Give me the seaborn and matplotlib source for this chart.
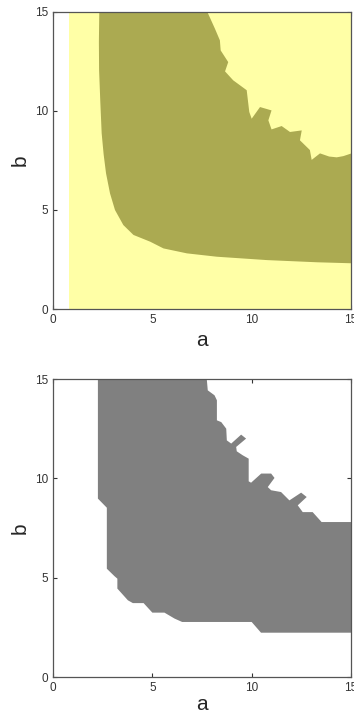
import numpy as np
import pandas as pd
import matplotlib
matplotlib.use("Agg")
import matplotlib.pyplot as plt
import seaborn as sns

# ---------------- data ----------------
# Top panel: valid (yellow) domain and olive stable region boundary
valid_a = [0.82, 15.0, 15.0, 0.82]
valid_b = [0.0, 0.0, 15.0, 15.0]

top_region_a = [2.33, 2.31, 2.32, 2.38, 2.45, 2.55, 2.67, 2.87, 3.12, 3.54, 4.05, 4.89,
                5.56, 6.74, 8.25, 10.77, 13.29, 15.0,
                15.0, 14.61, 14.28, 13.9, 13.44, 13.02, 12.93, 12.43, 12.52, 11.93, 11.51,
                11.0, 10.84, 11.0, 10.42, 10.0, 9.88, 9.75, 9.07, 8.66, 8.82, 8.44, 8.4,
                8.15, 7.77]
top_region_b = [15.0, 13.5, 12.07, 10.5, 8.87, 7.8, 6.85, 5.84, 5.0, 4.24, 3.74, 3.40,
                3.06, 2.81, 2.64, 2.47, 2.36, 2.31,
                7.85, 7.72, 7.66, 7.7, 7.86, 7.53, 8.03, 8.52, 9.02, 8.94, 9.24,
                9.07, 9.53, 10.03, 10.2, 9.61, 9.95, 11.05, 11.55, 12.0, 12.47, 13.06, 13.57,
                14.16, 15.0]

# Bottom panel: grid-resolution region boundary
bot_region_a = [2.26, 2.26, 2.71, 2.71, 3.1, 3.24, 3.24, 3.77, 4.02, 4.56, 5.0, 5.61,
                6.12, 6.5, 10.0, 10.47, 15.0,
                15.0, 13.52, 13.07, 12.57, 12.32, 12.77, 12.49, 11.9, 11.48, 10.98, 10.81,
                11.15, 10.98, 10.48, 9.97, 9.85, 9.85, 9.55, 9.25, 9.22, 9.72, 9.47, 8.97,
                8.75, 8.72, 8.47, 8.25, 8.25, 8.13, 7.79, 7.74]
bot_region_b = [15.0, 8.98, 8.52, 5.45, 5.07, 4.95, 4.45, 3.86, 3.72, 3.72, 3.24, 3.24,
                2.94, 2.77, 2.77, 2.23, 2.23,
                7.8, 7.8, 8.3, 8.3, 8.64, 9.06, 9.28, 8.89, 9.31, 9.40, 9.56,
                10.02, 10.24, 10.24, 9.78, 9.85, 10.99, 11.16, 11.36, 11.58, 12.0, 12.2, 11.75,
                11.91, 12.5, 12.83, 12.92, 13.93, 14.18, 14.43, 15.0]

ticks = [0, 5, 10, 15]
tick_labels = ["0", "5", "10", "15"]

# ---------------- style ----------------
sns.set_style("ticks")
plt.rcParams["font.family"] = ["Liberation Sans", "DejaVu Sans"]
plt.rcParams["xtick.direction"] = "in"
plt.rcParams["ytick.direction"] = "in"

fig = plt.figure(figsize=(3.54, 7.15), dpi=100)
W, H = 354, 715
ax1 = fig.add_axes([53 / W, 1 - 309 / H, 298 / W, 297 / H])
ax2 = fig.add_axes([53 / W, 1 - 677 / H, 298 / W, 298 / H])

yellow = "#FFFFA6"
olive = "#ABAA51"
gray = "#808080"

ax1.fill(valid_a, valid_b, color=yellow, lw=0)
ax1.fill(top_region_a, top_region_b, color=olive, lw=0)
ax2.fill(bot_region_a, bot_region_b, color=gray, lw=0)

for ax, xpad in ((ax1, 4), (ax2, 1)):
    ax.set_xlim(0, 15)
    ax.set_ylim(0, 15)
    ax.set_xticks(ticks)
    ax.set_xticklabels(tick_labels)
    ax.set_yticks(ticks)
    ax.set_yticklabels(tick_labels)
    ax.tick_params(axis="both", which="both", direction="in", length=3, width=0.8,
                   top=True, right=True, labelsize=8.5, colors="#333333", pad=3.5)
    for s in ax.spines.values():
        s.set_visible(True)
        s.set_color("#555555")
        s.set_linewidth(0.9)
    ax.set_xlabel("a", fontsize=15, labelpad=xpad)
    ax.set_ylabel("b", fontsize=15, labelpad=4)
    ax.set_facecolor("white")

fig.savefig("out.png", dpi=100, facecolor="white")
